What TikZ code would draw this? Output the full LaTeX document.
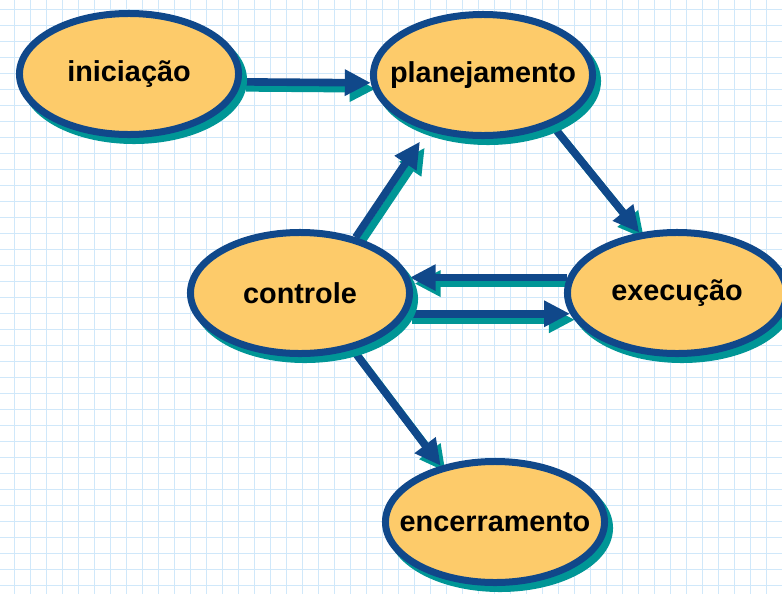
\documentclass[tikz,border=0pt]{standalone}
\usepackage{fontspec}
\setmainfont{Liberation Sans}
\usetikzlibrary{shapes.geometric,arrows.meta}
\definecolor{phasefill}{RGB}{253,203,106}
\definecolor{phaseline}{RGB}{16,72,138}
\definecolor{phaseshade}{RGB}{0,150,150}
\definecolor{gridblue}{RGB}{208,232,250}
\pgfdeclarelayer{back}
\pgfdeclarelayer{flows}
\pgfsetlayers{back,flows,main}
\begin{document}
\begin{tikzpicture}[x=0.025cm,y=-0.025cm,
        gridline/.style={draw=gridblue,line width=0.035cm},
        phase/.style={ellipse,draw=phaseline,fill=phasefill,line width=0.175cm,
            inner xsep=-2cm,inner ysep=-0.5cm,minimum width=5.475cm,minimum height=3.025cm,
            font=\fontsize{20.5}{24}\selectfont\bfseries,
            preaction={draw=phaseshade,fill=phaseshade,transform canvas={shift={(0.125cm,-0.15cm)}}}},
        flow/.style={draw=phaseline,line width=0.19cm,
            -{Triangle[length=0.65cm,width=0.62cm]}},
        flowshade/.style={flow,draw=phaseshade,transform canvas={shift={(0.12cm,-0.15cm)}}}]
    \useasboundingbox (0,0) rectangle (782,593);
    % Grid paper
    \begin{pgfonlayer}{back}
        \fill[white] (0,0) rectangle (782,593);
        \draw[gridline,step=0.4cm,xshift=0.3625cm,yshift=-0.2375cm] (-20,-20) grid (800,620);
    \end{pgfonlayer}
    % Phases
    \node[phase] (iniciacao) at (129,74) {iniciação};
    \node[phase] (planejamento) at (483,75) {planejamento};
    \node[phase] (controle) at (300,293) {controle};
    \node[phase] (execucao) at (677,293) {execução};
    \node[phase] (encerramento) at (495,522) {encerramento};
    % Flows
    \begin{pgfonlayer}{flows}
        \foreach \from/\to/\gap in {iniciacao.-4/planejamento.184/0pt,
                controle.45/planejamento.225/0.33cm,
                planejamento.-36/execucao.122/0pt,
                execucao.172/controle.8/0pt,
                controle.-11/execucao.191/0pt,
                controle.-47/encerramento.134/0pt} {
            \draw[flowshade,shorten >=\gap] (\from) -- (\to);
            \draw[flow,shorten >=\gap] (\from) -- (\to);
        }
    \end{pgfonlayer}
\end{tikzpicture}
\end{document}
